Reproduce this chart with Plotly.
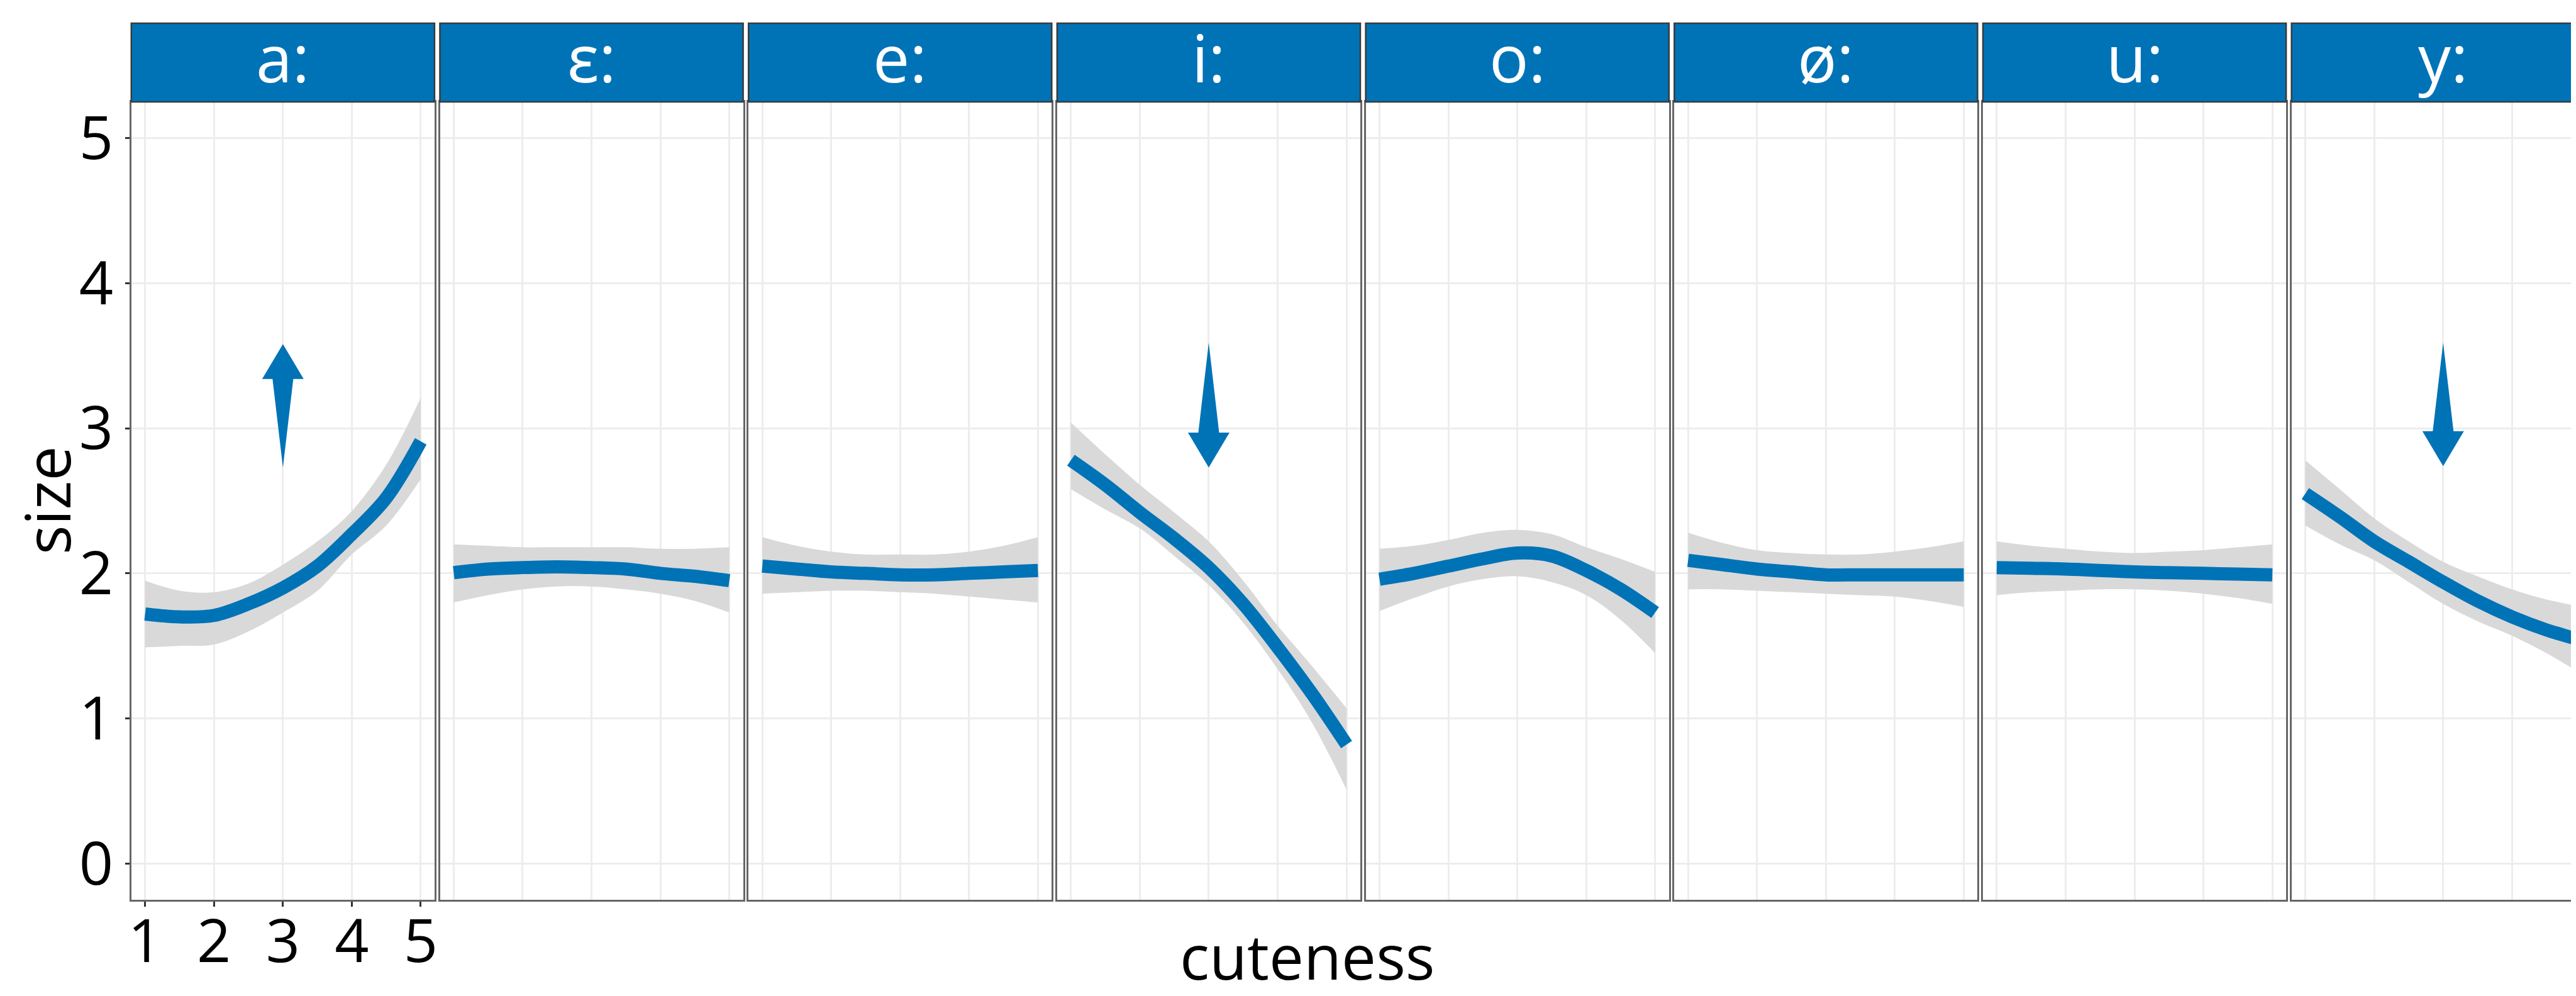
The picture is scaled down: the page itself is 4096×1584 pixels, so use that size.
import plotly.graph_objects as go

# ---------------- data ----------------
panels = ["a:", "ɛ:", "e:", "i:", "o:", "ø:", "u:", "y:"]
cuteness = [1, 1.5, 2, 2.5, 3, 3.5, 4, 4.5, 5]

fit_a = [1.72, 1.70, 1.71, 1.79, 1.90, 2.05, 2.27, 2.52, 2.91]
lo_a = [1.49, 1.50, 1.51, 1.60, 1.73, 1.88, 2.13, 2.33, 2.65]
hi_a = [1.95, 1.88, 1.87, 1.93, 2.06, 2.22, 2.43, 2.75, 3.21]

fit_eps = [2.005, 2.03, 2.04, 2.045, 2.04, 2.03, 2.00, 1.98, 1.95]
lo_eps = [1.80, 1.85, 1.89, 1.91, 1.91, 1.89, 1.86, 1.81, 1.73]
hi_eps = [2.20, 2.19, 2.18, 2.18, 2.18, 2.18, 2.17, 2.17, 2.18]

fit_e = [2.05, 2.03, 2.01, 2.00, 1.99, 1.99, 2.00, 2.01, 2.02]
lo_e = [1.86, 1.87, 1.88, 1.88, 1.87, 1.86, 1.84, 1.82, 1.80]
hi_e = [2.25, 2.19, 2.15, 2.13, 2.13, 2.13, 2.15, 2.19, 2.25]

fit_i = [2.78, 2.61, 2.42, 2.24, 2.04, 1.79, 1.49, 1.17, 0.82]
lo_i = [2.58, 2.44, 2.31, 2.12, 1.92, 1.66, 1.34, 0.97, 0.51]
hi_i = [3.04, 2.82, 2.61, 2.42, 2.22, 1.95, 1.64, 1.36, 1.07]

fit_o = [1.96, 2.00, 2.05, 2.10, 2.14, 2.12, 2.02, 1.89, 1.73]
lo_o = [1.74, 1.83, 1.91, 1.96, 1.98, 1.94, 1.85, 1.68, 1.45]
hi_o = [2.17, 2.19, 2.23, 2.28, 2.30, 2.27, 2.18, 2.10, 2.01]

fit_oe = [2.09, 2.06, 2.03, 2.01, 1.99, 1.99, 1.99, 1.99, 1.99]
lo_oe = [1.89, 1.89, 1.88, 1.87, 1.86, 1.85, 1.84, 1.81, 1.77]
hi_oe = [2.28, 2.21, 2.16, 2.14, 2.13, 2.13, 2.15, 2.18, 2.22]

fit_u = [2.04, 2.035, 2.03, 2.02, 2.01, 2.005, 2.00, 1.995, 1.99]
lo_u = [1.85, 1.87, 1.88, 1.89, 1.89, 1.88, 1.86, 1.83, 1.79]
hi_u = [2.22, 2.19, 2.17, 2.15, 2.14, 2.15, 2.16, 2.18, 2.20]

fit_y = [2.55, 2.39, 2.22, 2.08, 1.94, 1.81, 1.70, 1.61, 1.54]
lo_y = [2.33, 2.20, 2.09, 1.94, 1.79, 1.67, 1.57, 1.45, 1.31]
hi_y = [2.78, 2.58, 2.38, 2.22, 2.08, 1.98, 1.89, 1.82, 1.77]

size_ticks = [0, 1, 2, 3, 4, 5]
cute_ticks = [1, 2, 3, 4, 5]

arrow_panels = ["a:", "i:", "y:"]
arrow_x = [3, 3, 3]
arrow_start = [2.73, 3.59, 3.59]
arrow_end = [3.58, 2.73, 2.74]

fits = dict(zip(panels, [fit_a, fit_eps, fit_e, fit_i, fit_o, fit_oe, fit_u, fit_y]))
lows = dict(zip(panels, [lo_a, lo_eps, lo_e, lo_i, lo_o, lo_oe, lo_u, lo_y]))
highs = dict(zip(panels, [hi_a, hi_eps, hi_e, hi_i, hi_o, hi_oe, hi_u, hi_y]))

# ---------------- style / layout ----------------
W, H = 4096, 1584
BLUE = "#0073B7"
BAND = "#D9D9D9"
GRID = "#EDEDED"
BORDER = "#666666"
FONT = "Open Sans, Noto Sans, DejaVu Sans, sans-serif"
LEFT0, STEP, PW = 200.8, 490.7, 482.1
STRIP_TOP, PANEL_TOP, PANEL_BOT = 29, 154, 1423
X_RANGE = [0.8, 5.2]
Y_RANGE = [-0.25, 5.25]
HEAD_LEN = 0.24
HEAD_HALF_PX = 33
SHAFT_HALF_PX = 16.5

fig = go.Figure()
shapes, annotations, axes = [], [], {}
px_per_unit = PW / (X_RANGE[1] - X_RANGE[0])
ydom = [(H - PANEL_BOT) / H, (H - PANEL_TOP) / H]

for i, name in enumerate(panels):
    n = i + 1
    xs = "x" if n == 1 else f"x{n}"
    ys = "y" if n == 1 else f"y{n}"
    left = LEFT0 + i * STEP
    right = min(left + PW, W)
    xr_end = X_RANGE[0] + (right - left) / px_per_unit
    last = n == len(panels)

    fig.add_trace(go.Scatter(x=cuteness, y=lows[name], mode="lines",
                             line=dict(width=0, shape="spline", color=BAND),
                             xaxis=xs, yaxis=ys, showlegend=False, hoverinfo="skip"))
    fig.add_trace(go.Scatter(x=cuteness, y=highs[name], mode="lines",
                             line=dict(width=0, shape="spline", color=BAND),
                             fill="tonexty", fillcolor=BAND,
                             xaxis=xs, yaxis=ys, showlegend=False, hoverinfo="skip"))
    fig.add_trace(go.Scatter(x=cuteness, y=fits[name], mode="lines",
                             line=dict(width=21, shape="spline", color=BLUE),
                             xaxis=xs, yaxis=ys, showlegend=False))

    if name in arrow_panels:
        k = arrow_panels.index(name)
        ax, y0, y1 = arrow_x[k], arrow_start[k], arrow_end[k]
        d = 1 if y1 > y0 else -1
        yb = y1 - d * HEAD_LEN
        hw = HEAD_HALF_PX / px_per_unit
        sw = SHAFT_HALF_PX / px_per_unit
        fig.add_trace(go.Scatter(
            x=[ax, ax + sw, ax + hw, ax, ax - hw, ax - sw, ax],
            y=[y0, yb, yb, y1, yb, yb, y0],
            mode="lines", fill="toself", fillcolor=BLUE,
            line=dict(width=0, color=BLUE),
            xaxis=xs, yaxis=ys, showlegend=False, hoverinfo="skip"))

    xkey = "xaxis" if n == 1 else f"xaxis{n}"
    ykey = "yaxis" if n == 1 else f"yaxis{n}"
    axes[xkey] = dict(
        domain=[left / W, right / W], range=[X_RANGE[0], xr_end], anchor=ys,
        tickvals=cute_ticks, showgrid=True, gridcolor=GRID, gridwidth=2.5,
        zeroline=False, showline=True, linecolor=BORDER, linewidth=2.5, mirror=True,
        showticklabels=(n == 1), ticks="outside" if n == 1 else "",
        ticklen=8, tickwidth=3, tickcolor="#333333",
        tickfont=dict(family=FONT, size=95, color="#000000"),
        ticklabelstandoff=-26, automargin=False,
    )
    axes[ykey] = dict(
        domain=ydom, range=Y_RANGE, anchor=xs,
        tickvals=size_ticks, showgrid=True, gridcolor=GRID, gridwidth=2.5,
        zeroline=False, showline=True, linecolor=BORDER, linewidth=2.5,
        mirror=(not last),
        showticklabels=(n == 1), ticks="outside" if n == 1 else "",
        ticklen=7, tickwidth=3, tickcolor="#333333",
        tickfont=dict(family=FONT, size=95, color="#000000"),
        ticklabelstandoff=0, automargin=False,
    )

    sx1 = (left + PW) / W if not last else 1.02
    shapes.append(dict(type="rect", xref="paper", yref="paper",
                       x0=left / W, x1=sx1,
                       y0=(H - PANEL_TOP) / H, y1=(H - STRIP_TOP) / H,
                       fillcolor=BLUE, line=dict(color="#3a3a3a", width=2.5),
                       layer="above"))
    annotations.append(dict(text=name, xref="paper", yref="paper",
                            x=(left + PW / 2) / W,
                            y=(H - (STRIP_TOP + PANEL_TOP) / 2 + 9) / H,
                            xanchor="center", yanchor="middle", showarrow=False,
                            font=dict(family=FONT, size=104, color="white")))

annotations.append(dict(text="size", xref="paper", yref="paper",
                        x=66 / W, y=(H - 788) / H, textangle=-90,
                        xanchor="center", yanchor="middle", showarrow=False,
                        font=dict(family=FONT, size=98, color="#000000")))
annotations.append(dict(text="cuteness", xref="paper", yref="paper",
                        x=2071 / W, y=(H - 1512) / H,
                        xanchor="center", yanchor="middle", showarrow=False,
                        font=dict(family=FONT, size=98, color="#000000")))

fig.update_layout(
    width=W, height=H, margin=dict(l=0, r=0, t=0, b=0, autoexpand=False),
    paper_bgcolor="white", plot_bgcolor="white",
    shapes=shapes, annotations=annotations, showlegend=False,
    **axes,
)

fig.write_html("out.html")
